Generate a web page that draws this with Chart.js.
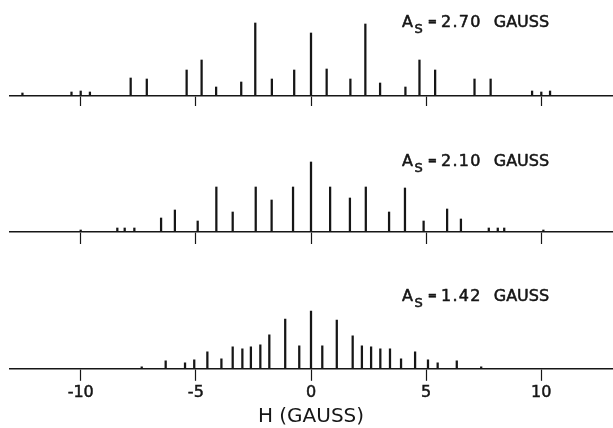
<!DOCTYPE html>
<html>
<head>
<meta charset="utf-8">
<script src="https://cdn.jsdelivr.net/npm/chart.js@4/dist/chart.umd.min.js"></script>
<style>
  html, body { margin: 0; padding: 0; background: #fff; }
  #wrap { position: relative; width: 613px; height: 428px; overflow: hidden; }
  canvas { position: absolute; left: 0; }
</style>
</head>
<body>
<div id="wrap">
  <canvas id="c1" width="613" height="106" style="top:0px"></canvas>
  <canvas id="c2" width="613" height="104" style="top:140px"></canvas>
  <canvas id="c3" width="613" height="148" style="top:280px"></canvas>
</div>
<script>
// Hyperfine coupling constants of the three simulated stick spectra
const couplings = ['2.70', '2.10', '1.42'];

// Shared field axis (gauss)
const tickValues = [-10, -5, 0, 5, 10];
const fieldMin = -13.07;
const fieldMax = 13.07;

// A_S = 2.70 gauss: line positions (G) and relative intensities
const fieldA = [-12.53, -10.4, -10.0, -9.6, -7.83, -7.13, -5.40, -4.75, -4.12, -3.03, -2.42, -1.70, -0.73,
                0.0, 0.68, 1.71, 2.36, 3.0, 4.1, 4.71, 5.39, 7.1, 7.8, 9.6, 10.0, 10.38];
const intensA = [3, 4, 5, 4, 18, 17, 26, 36, 9, 14, 73, 17, 26,
                 63, 27, 17, 72, 13, 9, 36, 26, 17, 17, 5, 4, 5];

// A_S = 2.10 gauss
const fieldB = [-10.0, -8.41, -8.09, -7.67, -6.51, -5.91, -4.92, -4.11, -3.40, -2.40, -1.71, -0.78,
                0.0, 0.83, 1.69, 2.38, 3.39, 4.08, 4.89, 5.91, 6.51, 7.72, 8.11, 8.39, 10.09];
const intensB = [2, 4, 4, 4, 14, 22, 11, 45, 20, 45, 32, 45,
                 70, 45, 34, 45, 20, 44, 11, 23, 13, 4, 4, 4, 2];

// A_S = 1.42 gauss
const fieldC = [-7.35, -6.31, -5.47, -5.07, -4.50, -3.89, -3.40, -2.98, -2.61, -2.20, -1.81, -1.12, -0.51,
                0.0, 0.49, 1.12, 1.81, 2.21, 2.61, 3.01, 3.43, 3.91, 4.52, 5.08, 5.50, 6.33, 7.39];
const intensC = [2, 8, 6, 9, 17, 10, 22, 20, 22, 24, 34, 50, 23,
                 58, 23, 49, 33, 23, 22, 20, 20, 10, 17, 9, 6, 8, 2];

const FONT = '"DejaVu Sans", "Liberation Sans", sans-serif';
const INK = '#161616';

// Draws the "A_S = x.xx GAUSS" caption at the upper right of a panel
const couplingLabel = {
  id: 'couplingLabel',
  afterDraw(chart, args, opts) {
    const ctx = chart.ctx;
    ctx.save();
    ctx.fillStyle = INK;
    ctx.strokeStyle = INK;
    ctx.lineWidth = 0.55;
    ctx.lineJoin = 'round';
    ctx.textBaseline = 'alphabetic';
    ctx.textAlign = 'left';
    const put = (text, font, x, y, spacing) => {
      ctx.font = font;
      ctx.letterSpacing = spacing || '0px';
      ctx.fillText(text, x, y);
      ctx.strokeText(text, x, y);
      return ctx.measureText(text).width;
    };
    let x = opts.x;
    const y = opts.y;
    x += put('A', '16px ' + FONT, x, y) + 1.5;
    x += put('S', '13px ' + FONT, x, y + 6) + 5;
    x += put('=', 'bold 11px ' + FONT, x, y - 2) + 4;
    x += put(opts.value, '16px ' + FONT, x, y, '1.3px') + 12;
    put('GAUSS', '16px ' + FONT, x, y);
    ctx.restore();
  }
};

function makePanel(id, fields, intens, cfg) {
  const xScale = {
    type: 'linear',
    min: fieldMin,
    max: fieldMax,
    offset: false,
    afterBuildTicks: axis => { axis.ticks = tickValues.map(v => ({ value: v })); },
    grid: {
      display: true,
      offset: false,
      drawOnChartArea: false,
      drawTicks: true,
      tickLength: cfg.tickLength,
      tickColor: INK,
      tickWidth: 1.2
    },
    border: { display: true, color: INK, width: 1.6 },
    ticks: {
      display: cfg.showLabels,
      color: INK,
      padding: 2,
      maxRotation: 0,
      autoSkip: false,
      textStrokeColor: INK,
      textStrokeWidth: 0.5,
      font: { family: FONT, size: 16 }
    },
    title: {
      display: cfg.showLabels,
      text: 'H (GAUSS)',
      color: INK,
      font: { family: FONT, size: 20, lineHeight: 1.1 },
      padding: { top: 2, bottom: 0 }
    }
  };
  return new Chart(document.getElementById(id), {
    type: 'bar',
    data: {
      datasets: [{
        data: fields.map((f, i) => ({ x: f, y: intens[i] })),
        backgroundColor: INK,
        borderWidth: 0,
        barThickness: 1.6,
        grouped: false
      }]
    },
    options: {
      responsive: false,
      animation: false,
      events: [],
      layout: { padding: { left: 10, right: 1, top: cfg.padTop, bottom: 0 } },
      scales: {
        x: xScale,
        y: { display: false, min: 0, max: cfg.yMax }
      },
      plugins: {
        legend: { display: false },
        tooltip: { enabled: false },
        couplingLabel: { value: cfg.value, x: 402, y: cfg.labelY }
      }
    },
    plugins: [couplingLabel]
  });
}

makePanel('c1', fieldA, intensA, { value: couplings[0], tickLength: 10, showLabels: false, padTop: 16, yMax: 80, labelY: 26.5 });
makePanel('c2', fieldB, intensB, { value: couplings[1], tickLength: 12, showLabels: false, padTop: 12, yMax: 80, labelY: 25.5 });
makePanel('c3', fieldC, intensC, { value: couplings[2], tickLength: 12, showLabels: true, padTop: 29, yMax: 60, labelY: 20.5 });
</script>
</body>
</html>
